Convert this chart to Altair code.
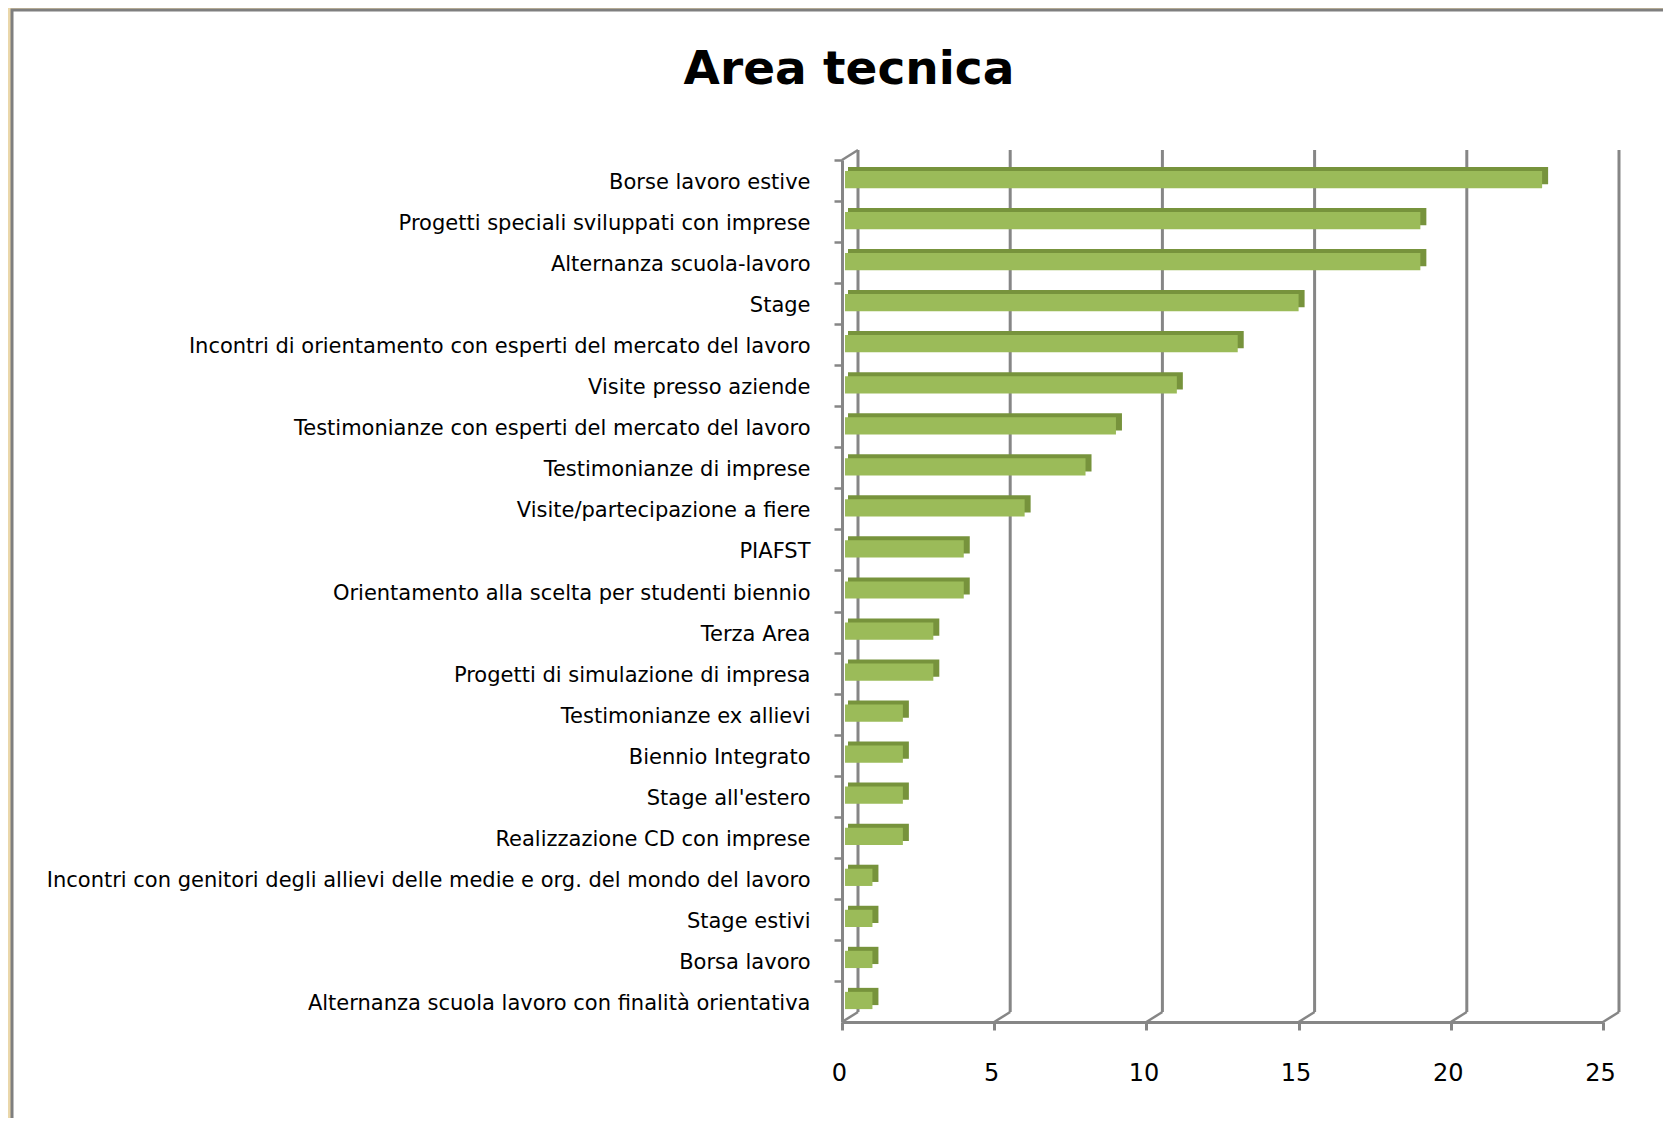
import altair as alt
import pandas as pd

categories = [
    "Borse lavoro estive",
    "Progetti speciali sviluppati con imprese",
    "Alternanza scuola-lavoro",
    "Stage ",
    "Incontri di orientamento con esperti del mercato del lavoro",
    "Visite presso aziende",
    "Testimonianze con esperti del mercato del lavoro",
    "Testimonianze di imprese",
    "Visite/partecipazione a fiere",
    "PIAFST ",
    "Orientamento alla scelta per studenti biennio",
    "Terza Area",
    "Progetti di simulazione di impresa",
    "Testimonianze ex allievi",
    "Biennio Integrato",
    "Stage all'estero",
    "Realizzazione CD con imprese",
    "Incontri con genitori degli allievi delle medie e org. del mondo del lavoro",
    "Stage estivi",
    "Borsa lavoro ",
    "Alternanza scuola lavoro con finalità orientativa",
]
values = [23, 19, 19, 15, 13, 11, 9, 8, 6, 4, 4, 3, 3, 2, 2, 2, 2, 1, 1, 1, 1]
tick_values = [0, 5, 10, 15, 20, 25]
title_text = ["Area tecnica"]

df = pd.DataFrame({"cat": categories, "value": values})
ticks_df = pd.DataFrame({"value": tick_values})
title_df = pd.DataFrame({"t": title_text})

W, H = 761, 862
STEP = H / len(categories)
GRID = "#868686"
xscale = alt.Scale(domain=[0, 25], nice=False, zero=True)
yscale = alt.Scale(domain=categories, paddingInner=0.58, paddingOuter=0.29)

x_axis = alt.Axis(values=tick_values, grid=False, labelFont="DejaVu Sans",
                  labelFontSize=24, labelColor="black", tickSize=8,
                  tickColor=GRID, tickWidth=3, domainColor=GRID,
                  domainWidth=3, labelPadding=31, zindex=1, labelOffset=-3,
                  labelFlush=False, title=None)
y_axis = alt.Axis(labelFont="DejaVu Sans", labelFontSize=21,
                  labelColor="black", tickSize=8, tickColor=GRID,
                  tickWidth=2.5, tickOffset=-STEP / 2, domainColor=GRID,
                  domainWidth=3, labelPadding=24, labelLimit=0,
                  zindex=1, labelOffset=STEP / 2 + 2, title=None)

X = alt.X("value:Q", scale=xscale, axis=x_axis, title=None)
Y = alt.Y("cat:N", sort=categories, scale=yscale, axis=y_axis, title=None)

panel = alt.Chart(title_df).mark_rect(fill="white", stroke="#7F7F7F", strokeWidth=3).encode(
    x=alt.value(-830), x2=alt.value(850), y=alt.value(-150), y2=alt.value(1000)
)

grid = alt.Chart(ticks_df).mark_rule(color=GRID, strokeWidth=3, xOffset=16).encode(
    x=X, y=alt.value(-10), y2=alt.value(852),
)

diag = alt.Chart(ticks_df).mark_rule(color=GRID, strokeWidth=2.5, x2Offset=16).encode(
    x=X, x2=alt.X2("value:Q"), y=alt.value(862), y2=alt.value(852),
)

topdiag = alt.Chart(title_df).mark_rule(color=GRID, strokeWidth=2.5).encode(
    x=alt.value(0), x2=alt.value(16), y=alt.value(0), y2=alt.value(-10)
)

dark = alt.Chart(df).mark_bar(color="#77933C", xOffset=6, x2Offset=6, yOffset=-5).encode(
    x=X, x2=alt.datum(0), y=Y,
)

front = alt.Chart(df).mark_bar(color="#9BBB59", x2Offset=3, yOffset=-1).encode(
    x=X, x2=alt.datum(0), y=Y,
)

title = alt.Chart(title_df).mark_text(
    font="DejaVu Sans", fontSize=47, fontWeight="bold", align="center",
    baseline="alphabetic", color="black"
).encode(x=alt.value(7), y=alt.value(-76), text="t:N")

chart = alt.layer(panel, grid, diag, topdiag, dark, front, title).properties(
    width=W, height=H,
    autosize=alt.AutoSizeParams(type="none"),
    padding={"left": 834, "top": 152, "right": 60, "bottom": 96},
    background="#EAD7AA",
).configure_view(stroke=None)

chart.save("out.html", embed_options={"renderer": "svg", "actions": False})
